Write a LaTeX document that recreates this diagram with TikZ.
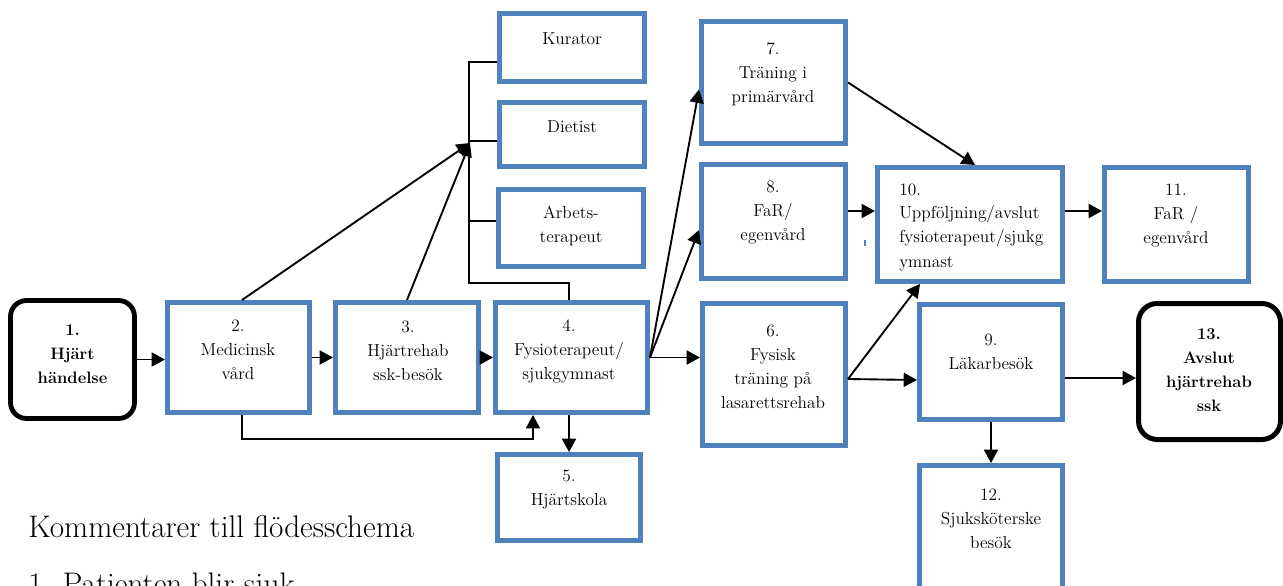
\documentclass[tikz,border=0pt]{standalone}
\usetikzlibrary{arrows.meta,calc}
\definecolor{bblue}{RGB}{79,129,189}
\tikzset{
  bx/.style 2 args={minimum width=#1*0.75pt, minimum height=#2*0.75pt},
  bbox/.style={draw=bblue, fill=white, line width=3.75pt, inner sep=0pt},
  rbox/.style={draw=black, fill=white, line width=3.6pt, rounded corners=12pt, inner sep=0pt},
  btext/.style={font=\fontsize{13}{18}\selectfont, align=center, inner sep=0pt},
  btextb/.style={font=\fontsize{12.4}{18}\selectfont\bfseries, align=center, inner sep=0pt},
  btextl/.style={font=\fontsize{13}{18}\selectfont, align=left, inner sep=0pt},
  bigtext/.style={font=\fontsize{23.4}{28}\selectfont, inner sep=0pt},
  conn/.style={draw=black, line width=1.4pt},
  arr/.style={conn, -{Triangle[length=10pt,width=10.5pt]}},
}
\begin{document}
\begin{tikzpicture}[x=0.75pt,y=-0.75pt]
\useasboundingbox (0,0) rectangle (1283,586);
\clip (0,0) rectangle (1283,586);
\fill[white] (0,0) rectangle (1283,586);

% boxes
\node[rbox, bx={124}{118}] (b1) at (72.5,359.5) {};
\node[bbox, bx={142}{110}] (b2) at (238.5,357.5) {};
\node[bbox, bx={143}{110}] (b3) at (407,357.5) {};
\node[bbox, bx={152}{110}] (b4) at (571.5,357.5) {};
\node[bbox, bx={143}{86}] (b5) at (569,497.5) {};
\node[bbox, bx={145}{68}] (kur) at (572,47.5) {};
\node[bbox, bx={145}{64}] (die) at (572,134.5) {};
\node[bbox, bx={145}{77}] (arb) at (571,228) {};
\node[bbox, bx={144}{122}] (b7) at (773.5,82.5) {};
\node[bbox, bx={144}{114}] (b8) at (773.5,221.5) {};
\node[bbox, bx={143}{142}] (b6) at (774,374.5) {};
\node[bbox, bx={185}{114}] (b10) at (970,224.5) {};
\node[bbox, bx={144}{114}] (b11) at (1176.5,224.5) {};
\node[bbox, bx={143}{115}] (b9) at (991,362) {};
\node[bbox, bx={143}{132}] (b12) at (991,531.5) {};
\node[rbox, line width=3.75pt, rounded corners=14pt, bx={142}{136}] (b13) at (1209.5,371.5) {};

% texts
\node[btextb] (t1) at (72.5,354) {1.\\Hjärt\\händelse};
\node[btext] (t2) at (238,350) {2.\\Medicinsk\\vård};
\node[btext] (t3) at (408,351) {3.\\Hjärtrehab\\ssk-besök};
\node[btext] (t4) at (569,351) {4.\\Fysioterapeut/\\sjukgymnast};
\node[btext] (t5) at (569,490) {5.\\Hjärtskola};
\node[btext] (tk) at (572,39) {Kurator};
\node[btext] (td) at (572,127) {Dietist};
\node[btext] (ta) at (571,226) {Arbets-\\terapeut};
\node[btext] (t7) at (773,74) {7.\\Träning i\\primärvård};
\node[btext] (t8) at (773,212.5) {8.\\FaR/\\egenvård};
\node[btext] (t6) at (773,367) {6.\\Fysisk\\träning på\\lasarettsrehab};
\node[btextl, anchor=west] (t10) at (899,227) {10.\\Uppföljning/avslut\\fysioterapeut/sjukg\\ymnast};
\node[btext] (t11) at (1176,216) {11.\\FaR /\\egenvård};
\node[btext] (t9) at (991,352) {9.\\Läkarbesök};
\node[btextb] (t13) at (1209,370) {13.\\Avslut\\hjärtrehab\\ssk};
\node[btext] (t12) at (991,518.5) {12.\\Sjuksköterske\\besök};

\node[bigtext, anchor=base west] (kom) at (28,537) {Kommentarer till flödesschema};
\node[bigtext, anchor=base west] (p1) at (28,594) {1. Patienten blir sjuk};

% stray mark
\fill[bblue] (864,240) rectangle (866,246);

% connectors
\draw[arr] (b1.east) -- (b1.east -| b2.west);
\draw[arr] (b2.east) -- (b3.west);
\draw[arr] (b3.east) -- (b4.west);
\coordinate (j2) at (533,439);
\draw[arr] ($(b2.south)+(3.5,0)$) |- (j2) -- (j2 |- b4.south);
\draw[arr] (b4.south -| b5.north) -- (b5.north);

\coordinate (f4) at (b4.east);
\draw[arr] (f4) -- (f4 -| b6.west);
\draw[arr] (f4) -- ($(b8.west)+(0,8.5)$);
\draw[arr] (f4) -- ($(b7.west)+(0,7)$);

\coordinate (f6) at ($(b6.east)+(0,4.5)$);
\draw[arr] (f6) -- ($(b9.west)+(0,18)$);
\draw[arr] (f6) -- ($(b10.south west)+(45,0)$);

\coordinate (r10) at (0,211);
\draw[arr] (b8.east |- r10) -- (b10.west |- r10);
\draw[arr] (b10.east |- r10) -- (b11.west |- r10);
\draw[arr] (b7.east) -- ($(b10.north west)+(100,0)$);

\coordinate (r9) at (0,378);
\draw[arr] (b9.east |- r9) -- (b13.west |- r9);
\draw[arr] (b9.south) -- (b12.north);

\coordinate (jn) at (470,143);
\draw[arr] ($(b2.north)+(3.5,0)$) -- (jn);
\draw[arr] (b3.north) -- (jn);

\coordinate (tr) at (469,283);
\coordinate (kurp) at ($(kur.west)+(0,14.5)$);
\coordinate (diep) at ($(die.west)+(0,6.5)$);
\coordinate (arbp) at ($(arb.west)+(0,-7)$);
\draw[conn] ($(b4.north)+(-2.5,0)$) |- (tr) |- (kurp);
\draw[conn] (tr |- diep) -- (diep);
\draw[conn] (tr |- arbp) -- (arbp);
\end{tikzpicture}
\end{document}
